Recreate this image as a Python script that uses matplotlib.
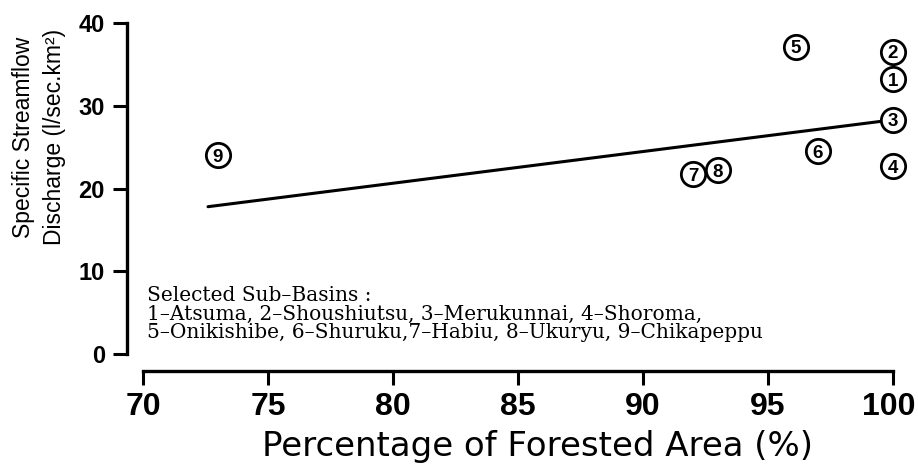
import matplotlib
matplotlib.use("Agg")
import matplotlib.pyplot as plt
from matplotlib import font_manager as fm
from matplotlib.transforms import ScaledTranslation

# Data
basin_ids = ["1", "2", "3", "4", "5", "6", "7", "8", "9"]
forest_pct = [100, 100, 100, 100, 96.1, 97.0, 92.0, 93.0, 73.0]
discharge = [33.2, 36.5, 28.3, 22.7, 37.1, 24.5, 21.7, 22.2, 24.0]
fit_x = [72.6, 100.0]
fit_y = [17.8, 28.3]
x_ticks = [70, 75, 80, 85, 90, 95, 100]
y_ticks = [0, 10, 20, 30, 40]
legend_lines = [
    "Selected Sub\u2013Basins :",
    "1\u2013Atsuma, 2\u2013Shoushiutsu, 3\u2013Merukunnai, 4\u2013Shoroma,",
    "5\u2013Onikishibe, 6\u2013Shuruku,7\u2013Habiu, 8\u2013Ukuryu, 9\u2013Chikapeppu",
]


def sans_props(size, bold=False):
    """Regular-width Liberation Sans (avoid the Narrow variant)."""
    want = 700 if bold else 400
    for f in fm.fontManager.ttflist:
        if (f.name == "Liberation Sans" and "narrow" not in f.fname.lower()
                and f.style == "normal"
                and (f.weight == want or f.weight == ("bold" if bold else "normal"))):
            return fm.FontProperties(fname=f.fname, size=size)
    return fm.FontProperties(family="DejaVu Sans", size=size,
                             weight="bold" if bold else "normal")


W, H = 918, 474
fig = plt.figure(figsize=(W / 100, H / 100), dpi=100)
ax = fig.add_axes([143 / W, (H - 354) / H, (893 - 143) / W, (354 - 23) / H])
ax.set_xlim(70, 100)
ax.set_ylim(0, 40)

for s in ["top", "right"]:
    ax.spines[s].set_visible(False)
ax.spines["left"].set_position(("outward", 11.5))
ax.spines["bottom"].set_position(("outward", 12.2))
ax.spines["left"].set_bounds(0, 40)
ax.spines["bottom"].set_bounds(70, 100)
for s in ["left", "bottom"]:
    ax.spines[s].set_linewidth(2.4)

ax.set_xticks(x_ticks)
ax.set_yticks(y_ticks)
ax.tick_params(axis="both", direction="out", length=10, width=2.2, color="black")
ax.tick_params(axis="x", pad=5)
ax.tick_params(axis="y", pad=6)
xfp = sans_props(23, bold=True)
yfp = sans_props(17, bold=True)
for lab in ax.get_xticklabels():
    lab.set_fontproperties(xfp)
for lab in ax.get_yticklabels():
    lab.set_fontproperties(yfp)
last = ax.get_xticklabels()[-1]
last.set_transform(last.get_transform() + ScaledTranslation(-4 / 100, 0, fig.dpi_scale_trans))

# regression line
ax.plot(fit_x, fit_y, color="black", lw=2.2, zorder=2, solid_capstyle="round")

# circled numbers
ax.plot(forest_pct, discharge, "o", ms=17.5, mfc="white", mec="black", mew=2.0,
        ls="none", zorder=3, clip_on=False)
nfp = sans_props(13.5, bold=True)
for bid, xv, yv in zip(basin_ids, forest_pct, discharge):
    ax.text(xv, yv, bid, ha="center", va="center_baseline", fontproperties=nfp,
            zorder=4, clip_on=False)

# legend text (one text per line, at the reference baselines)
for line, base in zip(legend_lines, [301, 320, 338]):
    fig.text(147 / W, (H - base) / H, line, family="DejaVu Serif",
             fontsize=14.5, ha="left", va="baseline")

# axis labels
fig.text(39 / W, (H - 137) / H, "Specific Streamflow\nDischarge (l/sec.km\u00b2)",
         rotation=90, ha="center", va="center", multialignment="center",
         fontproperties=sans_props(16.5), linespacing=1.4)
fig.text(538 / W, (H - 456) / H, "Percentage of Forested Area (%)",
         ha="center", va="baseline", family="DejaVu Sans", fontsize=24.5)

fig.savefig("out.png", dpi=100)
